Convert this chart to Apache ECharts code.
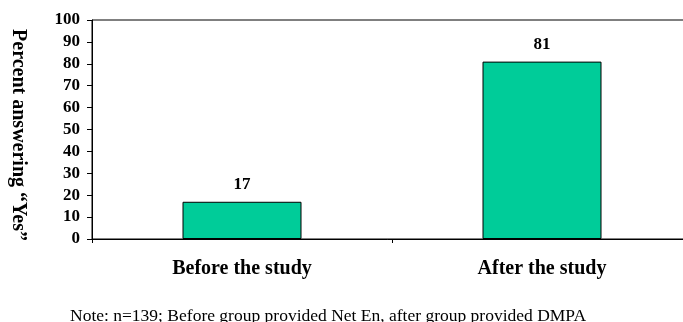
<!DOCTYPE html>
<html>
<head>
<meta charset="utf-8">
<script src="https://cdn.jsdelivr.net/npm/echarts@6/dist/echarts.min.js"></script>
<style>
  html, body { margin: 0; padding: 0; background: #fff; }
  #chart { width: 683px; height: 322px; }
</style>
</head>
<body>
<div id="chart"></div>
<script>
// Survey results: share answering "Yes" before and after the study
const categories = ['Before the study', 'After the study'];
const percentYes = [17, 81];
const yTicks = { min: 0, max: 100, step: 10 };
const yTitle = 'Percent answering \u201cYes\u201d';
const noteText = 'Note: n=139; Before group provided Net En, after group provided DMPA';

const serif = '"Liberation Serif", "Times New Roman", serif';
const chart = echarts.init(document.getElementById('chart'), null, { renderer: 'canvas' });

chart.setOption({
  animation: false,
  backgroundColor: '#ffffff',
  grid: {
    left: 92, top: 20, width: 600, height: 219,
    outerBoundsMode: 'none',
    containLabel: false,
    show: true, borderColor: '#000', borderWidth: 1, backgroundColor: 'transparent'
  },
  xAxis: {
    type: 'category',
    data: categories,
    boundaryGap: true,
    axisLine: { lineStyle: { color: '#000', width: 1 } },
    axisTick: { show: true, length: 4, lineStyle: { color: '#000' } },
    axisLabel: {
      color: '#000', fontFamily: serif, fontWeight: 'bold', fontSize: 20, margin: 20
    }
  },
  yAxis: {
    type: 'value',
    min: yTicks.min, max: yTicks.max, interval: yTicks.step,
    axisLine: { show: true, lineStyle: { color: '#000', width: 1 } },
    axisTick: { show: true, length: 5, lineStyle: { color: '#000' } },
    splitLine: { show: false },
    axisLabel: {
      color: '#000', fontFamily: serif, fontWeight: 'bold', fontSize: 17, margin: 12
    }
  },
  series: [{
    type: 'bar',
    data: percentYes,
    barWidth: 119,
    itemStyle: { color: '#00CC99', borderColor: '#000', borderWidth: 1 },
    label: {
      show: true, position: 'top', distance: 9,
      color: '#000', fontFamily: serif, fontWeight: 'bold', fontSize: 17
    }
  }],
  graphic: [
    {
      type: 'text',
      x: 18, y: 135,
      rotation: -Math.PI / 2,
      style: {
        text: yTitle, fill: '#000', font: 'bold 20px ' + serif,
        textAlign: 'center', textVerticalAlign: 'middle'
      }
    },
    {
      type: 'text',
      x: 70, y: 325,
      style: {
        text: noteText, fill: '#000', font: '17.5px ' + serif,
        textAlign: 'left', textVerticalAlign: 'bottom'
      }
    }
  ]
});
</script>
</body>
</html>
